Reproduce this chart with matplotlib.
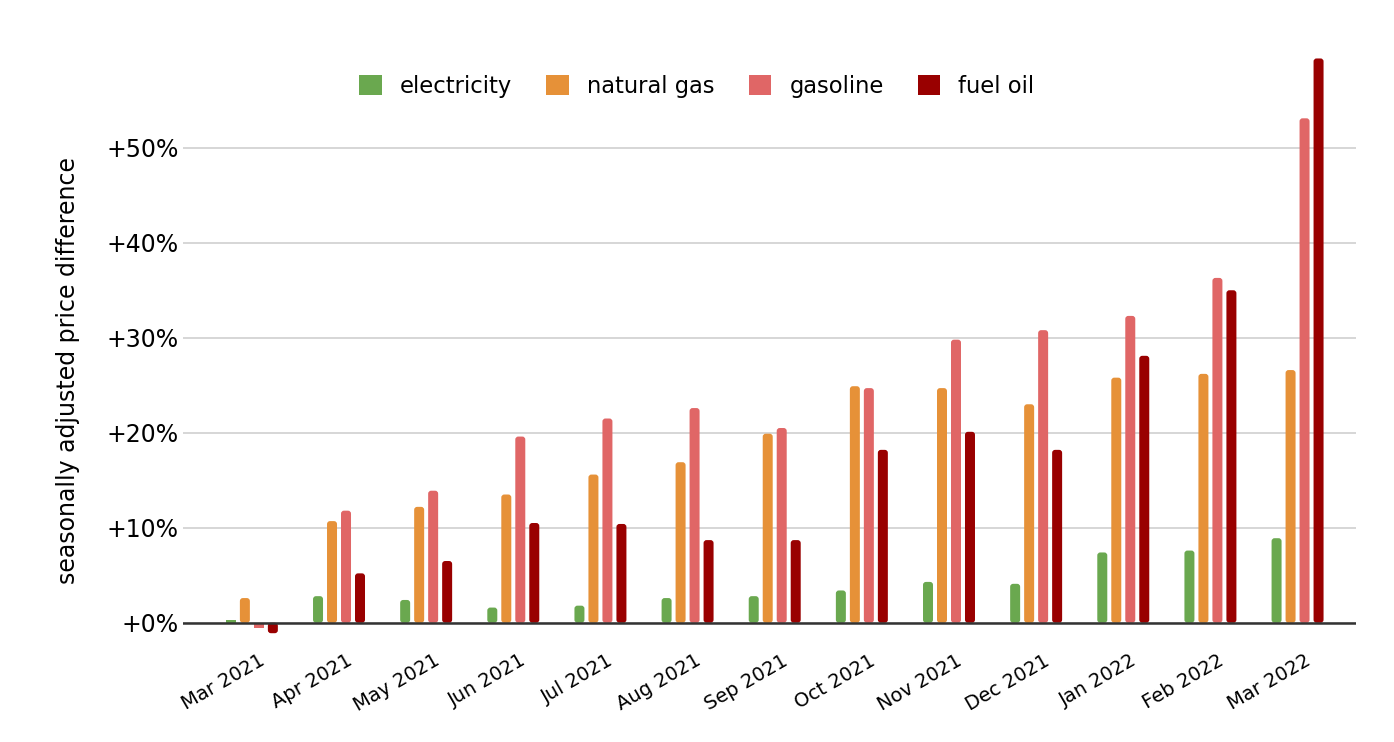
import numpy as np
import matplotlib
matplotlib.use('Agg')
import matplotlib.pyplot as plt
from matplotlib.patches import FancyBboxPatch, Patch
import matplotlib.transforms as mtransforms

# Data (percent difference, seasonally adjusted)
months = ['Mar 2021', 'Apr 2021', 'May 2021', 'Jun 2021', 'Jul 2021', 'Aug 2021',
          'Sep 2021', 'Oct 2021', 'Nov 2021', 'Dec 2021', 'Jan 2022', 'Feb 2022', 'Mar 2022']
electricity = [0.3, 2.8, 2.4, 1.6, 1.8, 2.6, 2.8, 3.4, 4.3, 4.1, 7.4, 7.6, 8.9]
natural_gas = [2.6, 10.7, 12.2, 13.5, 15.6, 16.9, 19.9, 24.9, 24.7, 23.0, 25.8, 26.2, 26.6]
gasoline = [-0.5, 11.8, 13.9, 19.6, 21.5, 22.6, 20.5, 24.7, 29.8, 30.8, 32.3, 36.3, 53.1]
fuel_oil = [-1.1, 5.2, 6.5, 10.5, 10.4, 8.7, 8.7, 18.2, 20.1, 18.2, 28.1, 35.0, 59.4]

series = [('electricity', electricity, '#6aa84f'),
          ('natural gas', natural_gas, '#e69138'),
          ('gasoline', gasoline, '#e06666'),
          ('fuel oil', fuel_oil, '#990000')]

fig = plt.figure(figsize=(13.94, 7.42), dpi=100)
ax = fig.add_axes([0.1313, 0.1415, 0.8414, 0.7938])

x = np.arange(len(months))
step = 0.1606
width = 0.1147
xlim = (-0.79, 12.67)
ylim = (-1.5, 60.5)
ax.set_xlim(*xlim)
ax.set_ylim(*ylim)

# pixel size of one data unit, used for rounded bar tops
px_x = ax.get_position().width * 1394 / (xlim[1] - xlim[0])
px_y = ax.get_position().height * 742 / (ylim[1] - ylim[0])
r = 3.0

for i, (name, vals, color) in enumerate(series):
    bars = ax.bar(x + (i - 1.5) * step, vals, width, color=color, zorder=3)
    for b in bars:
        bx, by, bw, bh = b.get_x(), b.get_y(), b.get_width(), b.get_height()
        if abs(bh) * px_y < 2 * r:
            continue
        b.set_visible(False)
        y0 = min(by, by + bh)
        fp = FancyBboxPatch((bx, y0), bw, abs(bh),
                            boxstyle=f'round,pad=0,rounding_size={r / px_x}',
                            mutation_aspect=px_x / px_y,
                            fc=color, ec='none', zorder=3)
        ax.add_patch(fp)

ax.axhline(0, color='#333333', lw=1.8, zorder=4)

yt = [0, 10, 20, 30, 40, 50]
ax.set_yticks(yt)
ax.set_yticklabels([f'+{v}%' for v in yt], fontsize=17)
ax.grid(axis='y', color='#cccccc', lw=1.1, zorder=0)
ax.tick_params(axis='y', length=0, pad=3)
ax.set_ylabel('seasonally adjusted price difference', fontsize=17, labelpad=19)
ax.yaxis.label.set_y(0.4525)

ax.set_xticks(x)
ax.set_xticklabels(months, rotation=30, ha='right', va='top',
                   rotation_mode='anchor', fontsize=14)
ax.tick_params(axis='x', length=0, pad=10)
offset = mtransforms.ScaledTranslation(7 / 100, 0, fig.dpi_scale_trans)
for lab in ax.get_xticklabels():
    lab.set_transform(lab.get_transform() + offset)

for s in ax.spines.values():
    s.set_visible(False)

handles = [Patch(facecolor=c, edgecolor='none', label=n) for n, _, c in series]
fig.legend(handles=handles, loc='center', bbox_to_anchor=(0.5, 0.884), ncol=4,
           frameon=False, fontsize=16.3, handlelength=1.0, handleheight=1.0,
           handletextpad=0.8, columnspacing=1.5)

fig.savefig('out.png', dpi=100)
